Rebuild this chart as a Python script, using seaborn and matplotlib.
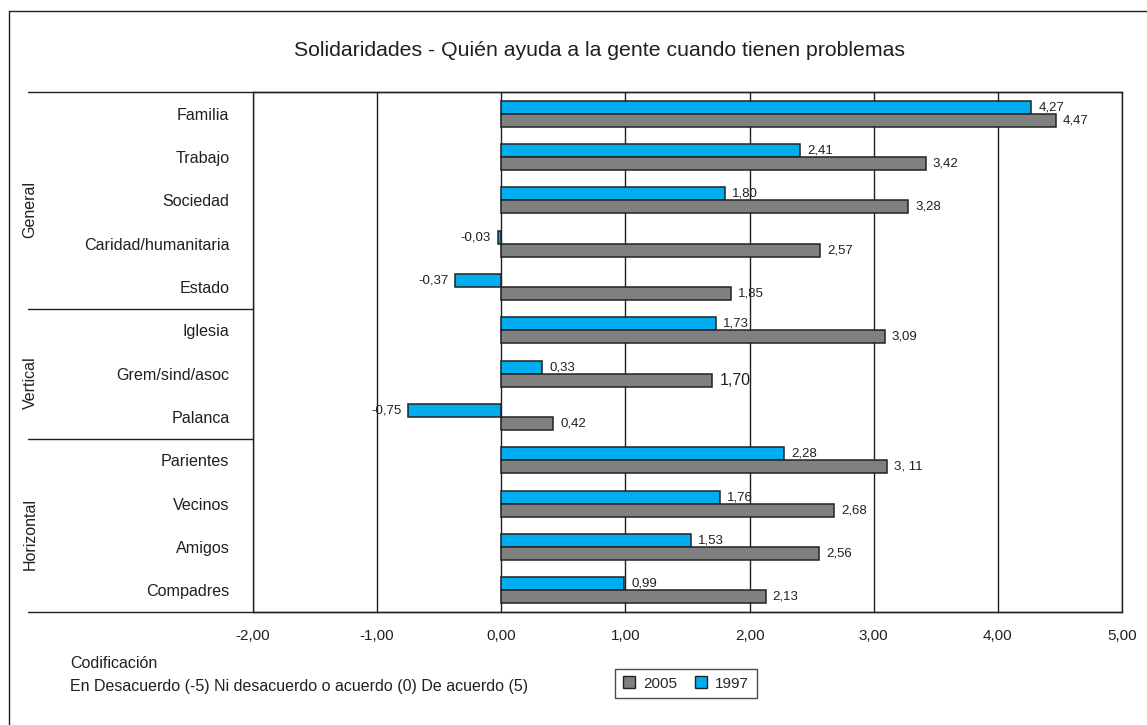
import pandas as pd
import seaborn as sns
import matplotlib.pyplot as plt
from matplotlib.lines import Line2D
from matplotlib.patches import Patch

# data
categories = ['Familia', 'Trabajo', 'Sociedad', 'Caridad/humanitaria', 'Estado',
              'Iglesia', 'Grem/sind/asoc', 'Palanca',
              'Parientes', 'Vecinos', 'Amigos', 'Compadres']
vals_1997 = [4.27, 2.41, 1.80, -0.03, -0.37, 1.73, 0.33, -0.75, 2.28, 1.76, 1.53, 0.99]
vals_2005 = [4.47, 3.42, 3.28, 2.57, 1.85, 3.09, 1.70, 0.42, 3.11, 2.68, 2.56, 2.13]
groups = ['General', 'Vertical', 'Horizontal']
group_sizes = [5, 3, 4]
xticks = [-2, -1, 0, 1, 2, 3, 4, 5]

colors = {'1997': '#00AEEF', '2005': '#808080'}

df = pd.DataFrame({
    'cat': categories * 2,
    'val': vals_1997 + vals_2005,
    'year': ['1997'] * len(categories) + ['2005'] * len(categories),
})

sns.set_style('white')
plt.rcParams['font.family'] = ['Liberation Sans', 'DejaVu Sans']
ink = '#231f20'

fig = plt.figure(figsize=(11.47, 7.25), dpi=100)
W, H = 1147, 725
x0, x1, y0, y1 = 253, 1122, 92, 612
ax = fig.add_axes([x0 / W, 1 - y1 / H, (x1 - x0) / W, (y1 - y0) / H])

sns.barplot(data=df, y='cat', x='val', hue='year', hue_order=['1997', '2005'],
            order=categories, palette=colors, saturation=1, orient='h', width=0.6,
            edgecolor='#222222', linewidth=1.1, ax=ax, legend=False)

ax.set_xlim(-2, 5)
ax.set_ylim(len(categories) - 0.5, -0.5)
ax.set_xticks(xticks)
ax.set_xticklabels([f'{t:.2f}'.replace('.', ',') for t in xticks], fontsize=11, color=ink)
ax.tick_params(axis='x', direction='out', length=4, width=1, color=ink, pad=8)
ax.set_yticks(range(len(categories)))
ax.set_yticklabels(categories, fontsize=11.6, color=ink)
ax.tick_params(axis='y', length=0, pad=17)
ax.set_xlabel('')
ax.set_ylabel('')
ax.set_axisbelow(True)
ax.xaxis.grid(True, color=ink, linewidth=1)
for s in ax.spines.values():
    s.set_color(ink)
    s.set_linewidth(1)

# data labels
lab97 = [f'{v:.2f}'.replace('.', ',') for v in vals_1997]
lab05 = [f'{v:.2f}'.replace('.', ',') for v in vals_2005]
lab05[categories.index('Parientes')] = '3, 11'
ax.bar_label(ax.containers[0], labels=lab97, padding=5, fontsize=9.5, color=ink)
t05 = ax.bar_label(ax.containers[1], labels=lab05, padding=5, fontsize=9.5, color=ink)
t05[categories.index('Grem/sind/asoc')].set_fontsize(11.5)

# multi-level category axis: group lines and group labels
lx = (28 - x0) / (x1 - x0)
trans = ax.get_yaxis_transform()
ax.plot([lx, 1], [-0.5, -0.5], transform=trans, color=ink, lw=1, clip_on=False)
ax.plot([lx, 1], [len(categories) - 0.5] * 2, transform=trans, color=ink, lw=1, clip_on=False)
start = 0
for g, n in zip(groups, group_sizes):
    end = start + n
    if end < len(categories):
        ax.plot([lx, 0], [end - 0.5, end - 0.5], transform=trans, color=ink, lw=1, clip_on=False)
    ax.text((30 - x0) / (x1 - x0), (start + end - 1) / 2 + 0.2, g, transform=trans,
            rotation=90, ha='center', va='center', fontsize=11.5, color=ink)
    start = end

fig.text(599 / W, 1 - 50 / H, 'Solidaridades - Quién ayuda a la gente cuando tienen problemas',
         ha='center', va='center', fontsize=15.3, color=ink)
fig.text(70 / W, 1 - 664 / H, 'Codificación', ha='left', va='center', fontsize=11.5, color=ink)
fig.text(70 / W, 1 - 686 / H, 'En Desacuerdo (-5) Ni desacuerdo o acuerdo (0) De acuerdo (5)',
         ha='left', va='center', fontsize=11.5, color=ink)

handles = [Patch(facecolor=colors['2005'], edgecolor='#222222'),
           Patch(facecolor=colors['1997'], edgecolor='#222222')]
leg = fig.legend(handles, ['2005', '1997'], loc='center', bbox_to_anchor=(686 / W, 1 - 683.5 / H),
                 ncol=2, fontsize=11, frameon=True, fancybox=False, handlelength=0.8,
                 handleheight=0.8, handletextpad=0.5, columnspacing=1.2, borderpad=0.5)
leg.get_frame().set_edgecolor(ink)
leg.get_frame().set_linewidth(1)

# outer chart border (left and top visible)
fig.add_artist(Line2D([9 / W, 9 / W], [0, 1 - 11 / H], color=ink, lw=1))
fig.add_artist(Line2D([9 / W, 1], [1 - 11 / H, 1 - 11 / H], color=ink, lw=1))

fig.savefig('out.png', dpi=100)
